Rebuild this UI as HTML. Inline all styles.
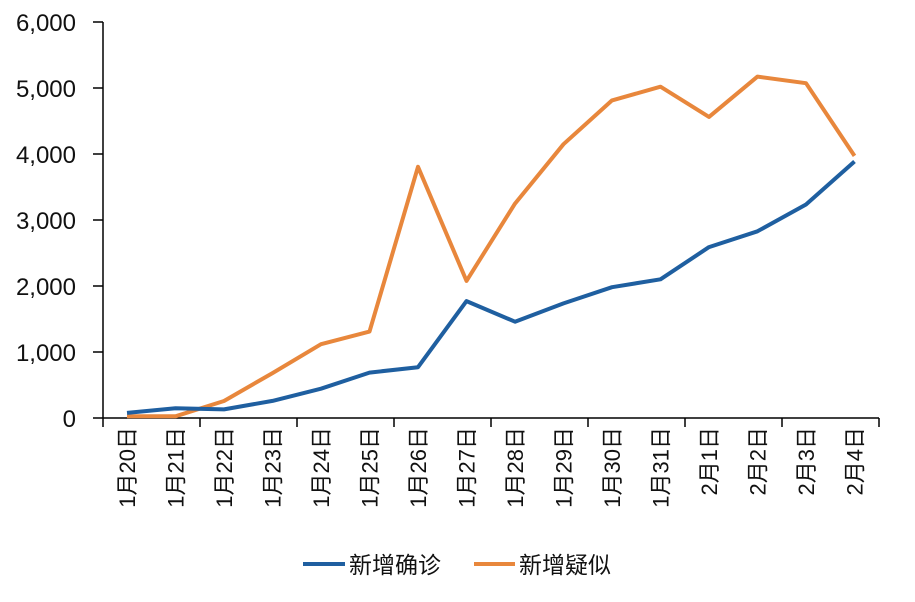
<!DOCTYPE html>
<html><head><meta charset="utf-8"><style>body{margin:0;background:#fff}svg{display:block}text{font-family:"Liberation Sans","Noto Sans CJK SC",sans-serif;fill:#111}</style></head><body>
<svg width="915" height="602" viewBox="0 0 915 602">
<g stroke="#000" stroke-width="1.5" fill="none">
<line x1="103" y1="22" x2="103" y2="418"/>
<line x1="103" y1="418" x2="879" y2="418"/>
<line x1="93" y1="22" x2="103" y2="22"/><line x1="93" y1="88" x2="103" y2="88"/><line x1="93" y1="154" x2="103" y2="154"/><line x1="93" y1="220" x2="103" y2="220"/><line x1="93" y1="286" x2="103" y2="286"/><line x1="93" y1="352" x2="103" y2="352"/><line x1="93" y1="418" x2="103" y2="418"/>
<line x1="103" y1="418" x2="103" y2="427"/><line x1="200" y1="418" x2="200" y2="427"/><line x1="297" y1="418" x2="297" y2="427"/><line x1="394" y1="418" x2="394" y2="427"/><line x1="491" y1="418" x2="491" y2="427"/><line x1="588" y1="418" x2="588" y2="427"/><line x1="685" y1="418" x2="685" y2="427"/><line x1="782" y1="418" x2="782" y2="427"/><line x1="879" y1="418" x2="879" y2="427"/>
</g>
<g font-size="24" text-anchor="end">
<text x="76" y="31">6,000</text><text x="76" y="97">5,000</text><text x="76" y="163">4,000</text><text x="76" y="229">3,000</text><text x="76" y="295">2,000</text><text x="76" y="361">1,000</text><text x="76" y="427">0</text>
</g>
<g font-size="22" text-anchor="end">
<text transform="translate(135,427) rotate(-90)">1月20日</text>
<text transform="translate(183.5,427) rotate(-90)">1月21日</text>
<text transform="translate(232,427) rotate(-90)">1月22日</text>
<text transform="translate(280.5,427) rotate(-90)">1月23日</text>
<text transform="translate(329,427) rotate(-90)">1月24日</text>
<text transform="translate(377.5,427) rotate(-90)">1月25日</text>
<text transform="translate(426,427) rotate(-90)">1月26日</text>
<text transform="translate(474.5,427) rotate(-90)">1月27日</text>
<text transform="translate(523,427) rotate(-90)">1月28日</text>
<text transform="translate(571.5,427) rotate(-90)">1月29日</text>
<text transform="translate(620,427) rotate(-90)">1月30日</text>
<text transform="translate(668.5,427) rotate(-90)">1月31日</text>
<text transform="translate(717,427) rotate(-90)">2月1日</text>
<text transform="translate(765.5,427) rotate(-90)">2月2日</text>
<text transform="translate(814,427) rotate(-90)">2月3日</text>
<text transform="translate(862.5,427) rotate(-90)">2月4日</text>
</g>
<polyline fill="none" stroke="#E8873C" stroke-width="4" stroke-linejoin="round" points="127,416.2 175.5,416.3 224,401 272.5,373.1 321,344.2 369.5,331.6 418,166.8 466.5,280.9 515,203.6 563.5,144.2 612,100.4 660.5,86.7 709,116.9 757.5,76.6 806,83.2 854.5,155.9"/>
<polyline fill="none" stroke="#1F5FA0" stroke-width="4" stroke-linejoin="round" points="127,412.9 175.5,408.2 224,409.4 272.5,400.9 321,388.7 369.5,372.6 418,367.2 466.5,301.1 515,321.7 563.5,303.4 612,287.2 660.5,279.3 709,247.1 757.5,231.3 806,204.5 854.5,161.5"/>
<line x1="303" y1="564" x2="345" y2="564" stroke="#1F5FA0" stroke-width="4"/>
<text x="349" y="573" font-size="23">新增确诊</text>
<line x1="474" y1="564" x2="515" y2="564" stroke="#E8873C" stroke-width="4"/>
<text x="519" y="573" font-size="23">新增疑似</text>
</svg>
</body></html>
